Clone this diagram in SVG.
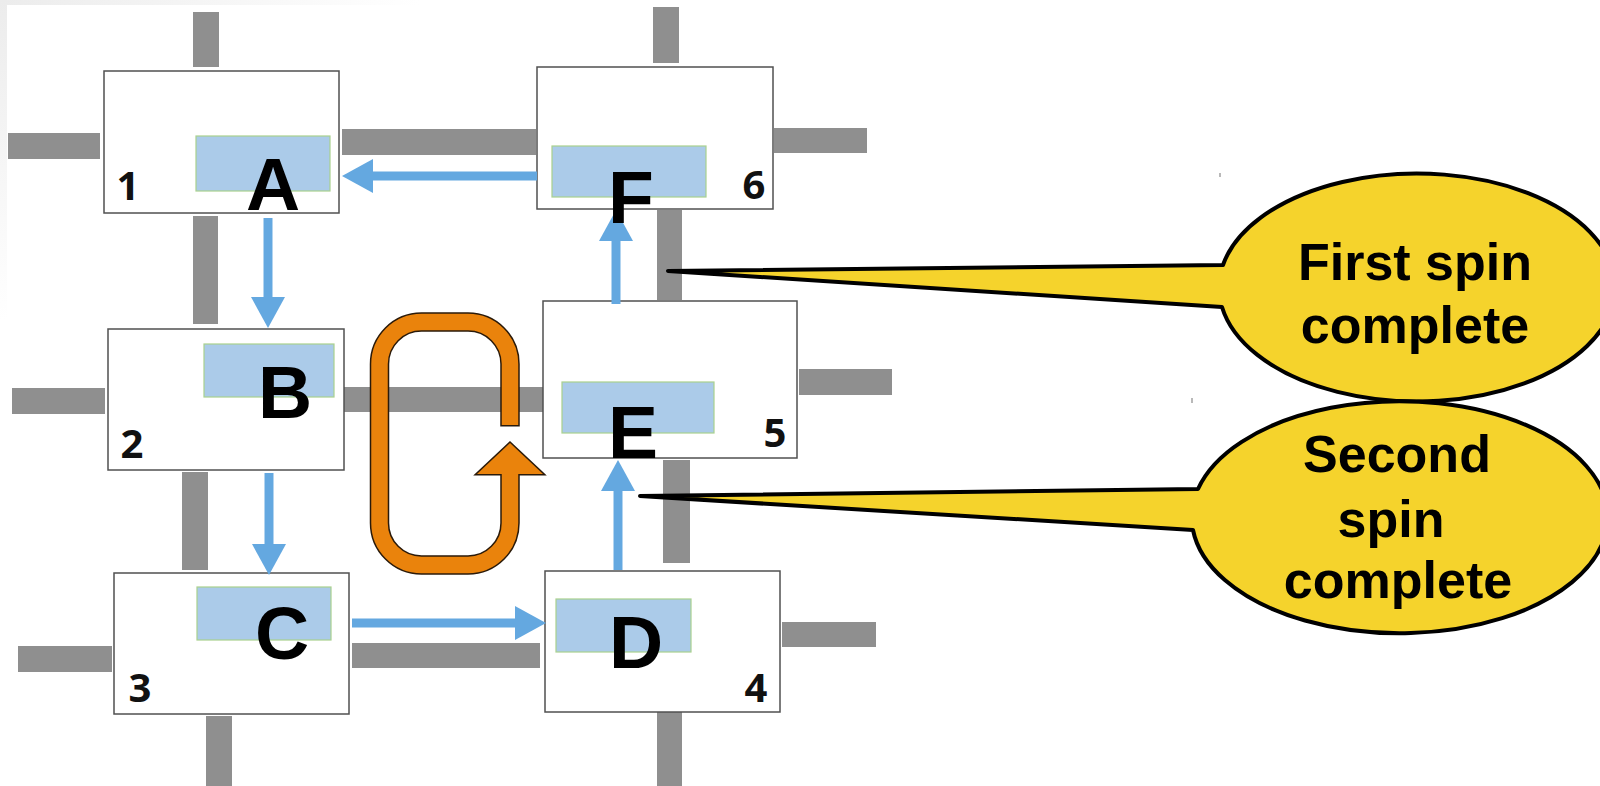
<svg xmlns="http://www.w3.org/2000/svg" width="1600" height="786" viewBox="0 0 1600 786">
<style>
.bar{fill:#8f8f8f}
.box{fill:#ffffff;stroke:#505050;stroke-width:1.5}
.slot{fill:#abcbe9;stroke:#a9d18e;stroke-width:1.2}
.big{font-family:"Liberation Sans",Arial,sans-serif;font-weight:bold;font-size:75px;fill:#000;text-anchor:middle}
.num{font-family:"Open Sans","Liberation Sans",sans-serif;font-weight:bold;font-size:40px;fill:#111;text-anchor:middle}
.flow{stroke:#64a8e0;stroke-width:9;fill:none;marker-end:url(#ah)}
.bubble{fill:#f5d32c;stroke:#000;stroke-width:4;stroke-linejoin:round}
.btxt{font-family:"Liberation Sans",Arial,sans-serif;font-weight:bold;font-size:52px;fill:#000;text-anchor:middle}
</style>
<defs>
<marker id="ah" viewBox="0 0 31 34" refX="3" refY="17" markerWidth="31" markerHeight="34" markerUnits="userSpaceOnUse" orient="auto">
<path d="M0,0 L31,17 L0,34 Z" fill="#64a8e0"/>
</marker>
<linearGradient id="gt" x1="0" y1="0" x2="1" y2="0"><stop offset="0" stop-color="#ececec"/><stop offset="1" stop-color="#ffffff"/></linearGradient>
<linearGradient id="gl" x1="0" y1="0" x2="0" y2="1"><stop offset="0" stop-color="#ececec"/><stop offset="1" stop-color="#ffffff"/></linearGradient>
</defs>
<rect width="1600" height="786" fill="#ffffff"/>
<rect x="0" y="0" width="420" height="5" fill="url(#gt)"/>
<rect x="0" y="0" width="7" height="320" fill="url(#gl)"/>

<g id="tracks">
<rect class="bar" x="193" y="12" width="26" height="55"/>
<rect class="bar" x="8" y="133" width="92" height="26"/>
<rect class="bar" x="342" y="129" width="194" height="26"/>
<rect class="bar" x="193" y="216" width="25" height="108"/>
<rect class="bar" x="653" y="7" width="26" height="56"/>
<rect class="bar" x="774" y="128" width="93" height="25"/>
<rect class="bar" x="657" y="210" width="25" height="90"/>
<rect class="bar" x="12" y="388" width="93" height="26"/>
<rect class="bar" x="344" y="387" width="199" height="25"/>
<rect class="bar" x="799" y="369" width="93" height="26"/>
<rect class="bar" x="182" y="472" width="26" height="98"/>
<rect class="bar" x="663" y="460" width="27" height="103"/>
<rect class="bar" x="18" y="646" width="94" height="26"/>
<rect class="bar" x="352" y="643" width="188" height="25"/>
<rect class="bar" x="782" y="622" width="94" height="25"/>
<rect class="bar" x="206" y="716" width="26" height="70"/>
<rect class="bar" x="657" y="712" width="25" height="74"/>
</g>

<g id="node1">
<rect class="box" x="104" y="71" width="235" height="142"/>
<rect class="slot" x="196" y="136" width="134" height="55"/>
<text class="num" x="128" y="200">1</text>
</g>
<g id="node2">
<rect class="box" x="108" y="329" width="236" height="141"/>
<rect class="slot" x="204" y="344" width="130" height="53"/>
<text class="num" x="132" y="458">2</text>
</g>
<g id="node3">
<rect class="box" x="114" y="573" width="235" height="141"/>
<rect class="slot" x="197" y="587" width="134" height="53"/>
<text class="num" x="140" y="702">3</text>
</g>
<g id="node4">
<rect class="box" x="545" y="571" width="235" height="141"/>
<rect class="slot" x="556" y="599" width="135" height="53"/>
<text class="num" x="756" y="702">4</text>
</g>
<g id="node5">
<rect class="box" x="543" y="301" width="254" height="157"/>
<rect class="slot" x="562" y="382" width="152" height="51"/>
<text class="num" x="775" y="447">5</text>
</g>
<g id="node6">
<rect class="box" x="537" y="67" width="236" height="142"/>
<rect class="slot" x="552" y="146" width="154" height="51"/>
<text class="num" x="754" y="199">6</text>
</g>

<g id="connectors">
<line class="flow" x1="537" y1="176" x2="370" y2="176"/>
<line class="flow" x1="268" y1="218" x2="268" y2="300"/>
<line class="flow" x1="269" y1="473" x2="269" y2="547"/>
<line class="flow" x1="352" y1="623" x2="518" y2="623"/>
<line class="flow" x1="618" y1="570" x2="618" y2="488"/>
<line class="flow" x1="616" y1="304" x2="616" y2="238"/>
</g>

<g id="loop">
<path d="M510 426.5 L510 364 A42 42 0 0 0 468 322 L421.5 322 A42 42 0 0 0 379.5 364 L379.5 523 A42 42 0 0 0 421.5 565 L468 565 A42 42 0 0 0 510 523 L510 472" fill="none" stroke="#2a1a0a" stroke-width="19.5"/>
<polygon points="477,474 543,474 510,443" fill="#ea830c" stroke="#2a1a0a" stroke-width="3" stroke-linejoin="miter"/>
<path d="M510 425 L510 364 A42 42 0 0 0 468 322 L421.5 322 A42 42 0 0 0 379.5 364 L379.5 523 A42 42 0 0 0 421.5 565 L468 565 A42 42 0 0 0 510 523 L510 472" fill="none" stroke="#ea830c" stroke-width="16.5"/>
<polygon points="477,474 543,474 510,443" fill="#ea830c"/>
</g>

<g id="letters">
<text class="big" x="273" y="210">A</text>
<text class="big" x="285" y="418">B</text>
<text class="big" x="282" y="659">C</text>
<text class="big" x="636" y="668">D</text>
<text class="big" x="633" y="458">E</text>
<text class="big" x="631" y="223">F</text>
</g>

<g id="callout1">
<path class="bubble" d="M668 271 L1223 265 A198 114 0 1 1 1222 307 Z"/>
<text class="btxt" x="1415" y="280">First spin</text>
<text class="btxt" x="1415" y="343">complete</text>
</g>
<g id="callout2">
<path class="bubble" d="M640 496 L1198 489 A208 116 0 1 1 1193 530 Z"/>
<text class="btxt" x="1397" y="472">Second</text>
<text class="btxt" x="1391" y="537">spin</text>
<text class="btxt" x="1398" y="598">complete</text>
</g>

<g id="marks" stroke="#8a8a8a" stroke-width="1.2">
<line x1="1220" y1="173" x2="1220" y2="177"/>
<line x1="1192" y1="398" x2="1192" y2="403"/>
</g>
</svg>
